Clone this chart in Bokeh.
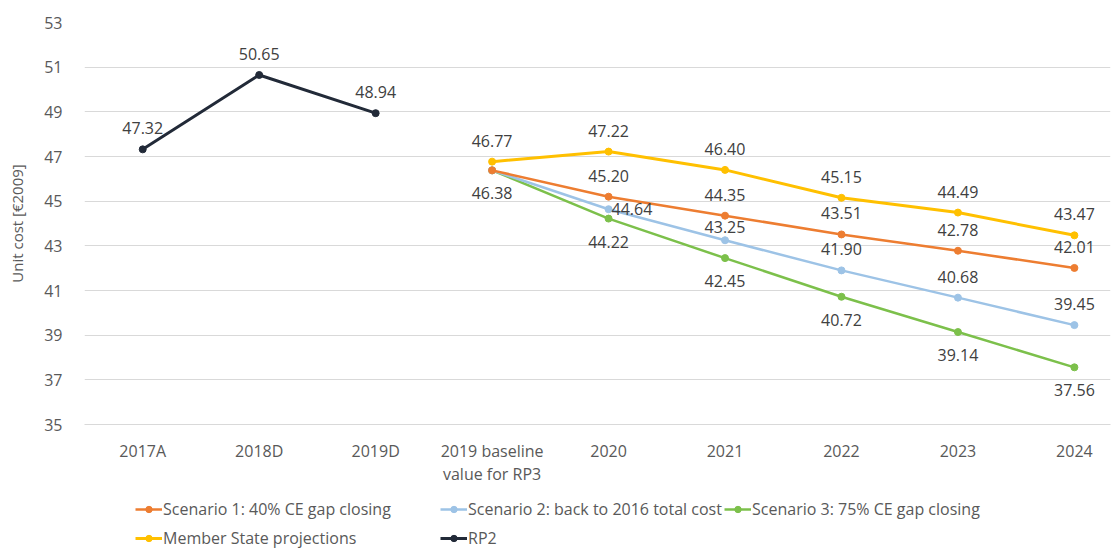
from bokeh.plotting import figure
from bokeh.layouts import column
from bokeh.models import (Range1d, FixedTicker, Legend, LegendItem,
                          ColumnDataSource, LabelSet)
from bokeh.core.properties import value
from bokeh.embed import file_html
from bokeh.resources import INLINE

# ---------------- data ----------------
categories = ["2017A", "2018D", "2019D", "2019 baseline\nvalue for RP3",
              "2020", "2021", "2022", "2023", "2024"]
rp2 = [47.32, 50.65, 48.94]
member_state = [46.77, 47.22, 46.40, 45.15, 44.49, 43.47]
scenario1 = [46.38, 45.20, 44.35, 43.51, 42.78, 42.01]
scenario2 = [46.38, 44.64, 43.25, 41.90, 40.68, 39.45]
scenario3 = [46.38, 44.22, 42.45, 40.72, 39.14, 37.56]
y_ticks = [35, 37, 39, 41, 43, 45, 47, 49, 51, 53]

names = {
    "s1": "Scenario 1: 40% CE gap closing",
    "s2": "Scenario 2: back to 2016 total cost",
    "s3": "Scenario 3: 75% CE gap closing",
    "ms": "Member State projections",
    "rp2": "RP2",
}

# label placement per point
placement = {
    "rp2": ["above"] * 3,
    "ms": ["above"] * 6,
    "s1": [None] + ["above"] * 5,
    "s2": [None, "right", "near", "above", "above", "above"],
    "s3": ["below"] * 6,
}

colors = {"s1": "#ED7D31", "s2": "#9DC3E6", "s3": "#7CC04B",
          "ms": "#FFC000", "rp2": "#222A38"}

FONT = "Open Sans"
LBL = "#404040"
TICK = "#595959"

x_rp2 = list(range(0, 3))
x_fut = list(range(3, 9))
series = {
    "s1": (x_fut, scenario1),
    "s2": (x_fut, scenario2),
    "s3": (x_fut, scenario3),
    "ms": (x_fut, member_state),
    "rp2": (x_rp2, rp2),
}

p = figure(frame_width=1026, frame_height=402, output_backend="svg",
           toolbar_location=None, x_range=Range1d(-0.5, 8.31),
           y_range=Range1d(35, 53), min_border_left=84, min_border_right=6,
           min_border_top=22, min_border_bottom=66)
p.outline_line_color = None
p.background_fill_color = "white"
p.border_fill_color = "white"

p.xgrid.grid_line_color = None
p.ygrid.grid_line_color = "#D9D9D9"
p.ygrid.grid_line_width = 1

p.yaxis.ticker = FixedTicker(ticks=y_ticks)
p.yaxis.axis_line_color = None
p.yaxis.major_tick_line_color = None
p.yaxis.minor_tick_line_color = None
p.yaxis.major_label_text_font = FONT
p.yaxis.major_label_text_font_size = "16px"
p.yaxis.major_label_text_color = TICK
p.yaxis.major_label_standoff = 16
p.yaxis.axis_label = "Unit cost [€2009]"
p.yaxis.axis_label_text_font = FONT
p.yaxis.axis_label_text_font_size = "15px"
p.yaxis.axis_label_text_font_style = "normal"
p.yaxis.axis_label_text_color = TICK
p.yaxis.axis_label_standoff = 14

p.xaxis.ticker = FixedTicker(ticks=list(range(len(categories))))
p.xaxis.major_label_overrides = {i: c for i, c in enumerate(categories)}
p.xaxis.axis_line_color = "#D9D9D9"
p.xaxis.major_tick_line_color = None
p.xaxis.minor_tick_line_color = None
p.xaxis.major_label_text_font = FONT
p.xaxis.major_label_text_font_size = "16px"
p.xaxis.major_label_text_color = TICK
p.xaxis.major_label_text_line_height = 1.05
p.xaxis.major_label_standoff = 9

order = ["s1", "s2", "s3", "ms", "rp2"]
for key in ["s3", "s2", "s1", "ms", "rp2"]:
    xs, ys = series[key]
    lw = 3 if key in ("ms", "rp2") else 2.5
    p.line(xs, ys, line_color=colors[key], line_width=lw)
    p.scatter(xs, ys, size=7, fill_color=colors[key], line_color=colors[key])

# data labels
groups = {"above": ([], [], []), "near": ([], [], []),
          "below": ([], [], []), "right": ([], [], [])}
for key in ["rp2", "ms", "s1", "s2", "s3"]:
    xs, ys = series[key]
    for xv, yv, pos in zip(xs, ys, placement[key]):
        if pos is None:
            continue
        gx, gy, gt = groups[pos]
        gx.append(xv); gy.append(yv); gt.append(f"{yv:.2f}")

offsets = {"above": (0, 21, "center"), "near": (0, 13, "center"),
           "below": (0, -23, "center"), "right": (3, 0, "left")}
for pos, (gx, gy, gt) in groups.items():
    src = ColumnDataSource(dict(x=gx, y=gy, t=gt))
    xo, yo, al = offsets[pos]
    p.add_layout(LabelSet(x="x", y="y", text="t", source=src,
                          x_offset=xo, y_offset=yo, text_align=al,
                          text_baseline="middle", text_font=value(FONT),
                          text_font_size=value("16px"), text_color=LBL))

# legend strip below the chart (its own view range lies away from the data,
# so only the legend samples are visible)
lf = figure(width=1116, height=59, output_backend="svg", toolbar_location=None,
            x_range=Range1d(-100, -99), y_range=Range1d(-100, -99),
            x_axis_type=None, y_axis_type=None,
            min_border_left=0, min_border_right=0, min_border_top=0,
            min_border_bottom=0)
lf.outline_line_color = None
lf.xgrid.grid_line_color = None
lf.ygrid.grid_line_color = None

leg_pos = {"s1": (51, 29), "s2": (356, 29), "s3": (640, 29),
           "ms": (51, 0), "rp2": (356, 0)}
for key in order:
    xs, ys = series[key]
    lw = 3 if key in ("ms", "rp2") else 2.5
    l = lf.line(xs, ys, line_color=colors[key], line_width=lw)
    s = lf.scatter(xs, ys, size=7, fill_color=colors[key], line_color=colors[key])
    lg = Legend(items=[LegendItem(label=names[key], renderers=[l, s])],
                location=leg_pos[key], orientation="horizontal",
                glyph_width=27, glyph_height=16, label_height=16,
                label_standoff=1, padding=0, margin=0, spacing=0,
                border_line_color=None, background_fill_alpha=0,
                label_text_font=FONT, label_text_font_size="16px",
                label_text_color=TICK)
    lf.add_layout(lg, "center")

open("out.html", "w").write(file_html(column(p, lf, spacing=0), INLINE))
